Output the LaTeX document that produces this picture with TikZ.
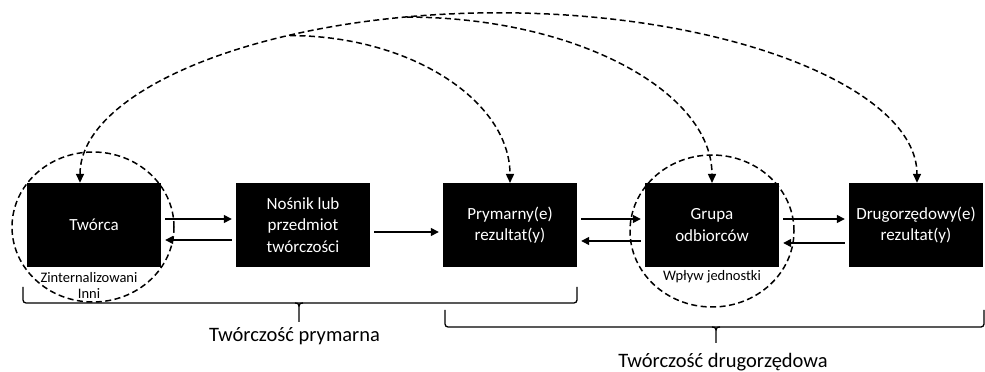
\documentclass[tikz,border=0pt]{standalone}
\usepackage{fontspec}
\setmainfont{Carlito}
\usetikzlibrary{arrows.meta,shapes.geometric}
\begin{document}
\begin{tikzpicture}[x=1pt,y=1pt,
  stage/.style={fill=black,text=white,minimum width=134pt,minimum height=84pt,
    inner sep=0pt,align=center,font=\fontsize{17pt}{21.5pt}\selectfont},
  flow/.style={line width=1.4pt,-{Triangle[length=8pt,width=8pt]},
    shorten <=4pt,shorten >=4pt},
  link/.style={line width=1.5pt,dash pattern=on 6pt off 3.5pt},
  headed/.style={-{Triangle[length=9pt,width=8pt]}},
  twohead/.style={{Triangle[length=9pt,width=8pt]}-{Triangle[length=9pt,width=8pt]}},
  zone/.style={draw,ellipse,link,inner sep=0pt},
  note/.style={align=center,font=\fontsize{14.5pt}{16pt}\selectfont},
  bracket/.style={line width=1.3pt,rounded corners=3pt},
  caption/.style={anchor=base,font=\fontsize{20.5pt}{24pt}\selectfont}]
\useasboundingbox (0,0) rectangle (985,372);

% dashed zones of influence
\node[zone,minimum width=162pt,minimum height=150pt] (c1) at (93,145) {};
\node[zone,minimum width=164pt,minimum height=152pt] (c2) at (712,141) {};

% stages of the process
\node[stage] (b1) at (94,147) {Twórca};
\node[stage] (b2) at (303,147) {Nośnik lub\\przedmiot\\twórczości};
\node[stage] (b3) at (510,147) {Prymarny(e)\\rezultat(y)};
\node[stage] (b4) at (712,147) {Grupa\\odbiorców};
\node[stage] (b5) at (916,147) {Drugorzędowy(e)\\rezultat(y)};

% labels inside the zones
\node[note] (n1) at (89,87) {Zinternalizowani\\Inni};
\node[note] (n2) at (712,95) {Wpływ jednostki};

% forward and backward flows
\draw[flow] ([yshift=6pt]b1.east) -- ([yshift=6pt]b2.west);
\draw[flow] ([yshift=-15pt]b2.west) -- ([yshift=-15pt]b1.east);
\draw[flow] ([yshift=-7pt]b2.east) -- ([yshift=-7pt]b3.west);
\draw[flow] ([yshift=6pt]b3.east) -- ([yshift=6pt]b4.west);
\draw[flow] ([yshift=-16pt]b4.west) -- ([yshift=-16pt]b3.east);
\draw[flow] ([yshift=6pt]b4.east) -- ([yshift=6pt]b5.west);
\draw[flow] ([yshift=-18pt]b5.west) -- ([yshift=-18pt]b4.east);

% dashed feedback arcs over the top
\draw[link,twohead] ([xshift=-14pt]b1.north)
  arc[start angle=180,end angle=0,x radius=418.5pt,y radius=170pt];
\coordinate (j1) at (290,336.4);
\coordinate (j2) at (407,354.9);
\draw[link,headed] (j1) arc[start angle=90,end angle=0,x radius=220pt,y radius=147.4pt];
\draw[link,headed] (j2) arc[start angle=90,end angle=0,x radius=305pt,y radius=165.9pt];

% brackets grouping the stages
\draw[bracket] (23,85) -- (23,69) -- (577,69) -- (577,85);
\draw[line width=1.3pt] (295,69) .. controls (298.5,69) and (299,67.5) .. (299,64) -- (299,50)
  (303,69) .. controls (299.5,69) and (299,67.5) .. (299,64);
\draw[bracket] (445,62) -- (445,45) -- (984,45) -- (984,62);
\draw[line width=1.3pt] (712,45) .. controls (715.5,45) and (716,43.5) .. (716,40) -- (716,29)
  (720,45) .. controls (716.5,45) and (716,43.5) .. (716,40);

\node[caption] (t1) at (294.5,30) {Twórczość prymarna};
\node[caption] (t2) at (723,5) {Twórczość drugorzędowa};
\end{tikzpicture}
\end{document}
